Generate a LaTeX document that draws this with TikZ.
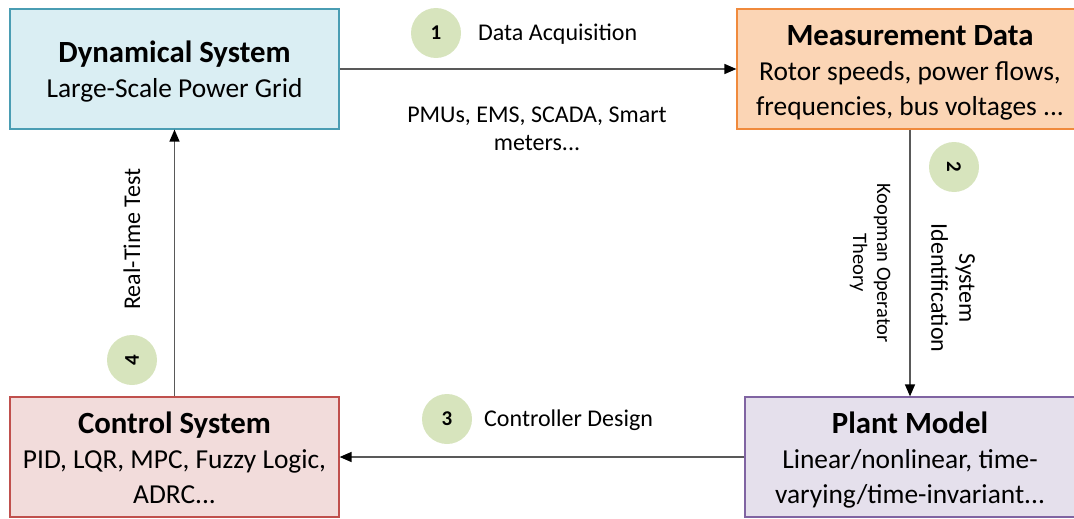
\documentclass[tikz,border=0pt]{standalone}
\usepackage{fontspec}
\setmainfont{Carlito}
\usetikzlibrary{arrows.meta}

\definecolor{dynfill}{HTML}{DAEEF3}
\definecolor{dynline}{HTML}{4A9DB3}
\definecolor{measfill}{HTML}{FBD5B5}
\definecolor{measline}{HTML}{F08A3C}
\definecolor{ctrlfill}{HTML}{F2DCDB}
\definecolor{ctrlline}{HTML}{C0504D}
\definecolor{plantfill}{HTML}{E5E0EC}
\definecolor{plantline}{HTML}{8064A2}
\definecolor{stepfill}{HTML}{D7E4BD}
\definecolor{flowline}{HTML}{595959}

\tikzset{
  block/.style={draw, line width=1.2pt, inner sep=0pt, align=center,
    font=\fontsize{27.4}{35}\selectfont},
  stepnum/.style={circle, fill=stepfill, minimum size=50pt, inner sep=0pt,
    font=\fontsize{21}{24}\selectfont\bfseries},
  lbl/.style={font=\fontsize{24}{28}\selectfont, inner sep=0pt, align=center},
  flow/.style={draw=flowline, line width=1.4pt,
    -{Triangle[length=12pt, width=10pt, color=black]}},
}
% bold first line of a block, with a fixed height so every block sits alike
\newcommand{\heading}[1]{{\fontsize{30.8}{35}\selectfont\bfseries\rule{0pt}{28pt}#1}}
% fixed depth for the last line of a block
\newcommand{\tailstrut}{\rule[-6pt]{0pt}{0pt}}

\begin{document}
\begin{tikzpicture}[x=1pt, y=-1pt]
\useasboundingbox (0,0) rectangle (1074,519);

% the four blocks of the loop
\node[block, fill=dynfill, draw=dynline, minimum width=329pt, minimum height=120pt]
  (dyn) at (174.5,69) {\heading{Dynamical System}\\Large-Scale Power Grid\tailstrut};
\node[block, fill=measfill, draw=measline, minimum width=346pt, minimum height=120pt]
  (meas) at (910,69) {\heading{Measurement Data}\\Rotor speeds, power flows,\\frequencies, bus voltages ...\tailstrut};
\node[block, fill=ctrlfill, draw=ctrlline, minimum width=329pt, minimum height=120pt]
  (ctrl) at (174.5,457) {\heading{Control System}\\PID, LQR, MPC, Fuzzy Logic,\\ADRC...\tailstrut};
\node[block, fill=plantfill, draw=plantline, minimum width=330pt, minimum height=120pt]
  (plant) at (910,457) {\heading{Plant Model}\\Linear/nonlinear, time-\\varying/time-invariant...\tailstrut};

% connectors
\draw[flow] (dyn.east) -- (meas.west);
\draw[flow] (meas.south) -- (plant.north);
\draw[flow] (plant.west) -- (ctrl.east);
\draw[flow] (ctrl.north) -- (dyn.south);

% numbered steps
\node[stepnum] (s1) at (436,33) {1};
\node[stepnum, rotate=-90] (s2) at (954,167) {2};
\node[stepnum] (s3) at (447,419) {3};
\node[stepnum, rotate=90] (s4) at (132,360) {4};

% step labels
\node[lbl, anchor=west] (l1) at (478,34) {Data Acquisition};
\node[lbl] (l1b) at (537,129) {PMUs, EMS, SCADA, Smart\\meters...};
\node[lbl, rotate=-90, font=\fontsize{20.5}{24}\selectfont] (l2a) at (870,263) {Koopman Operator\\Theory};
\node[lbl, rotate=-90] (l2b) at (953,288) {System\\Identification};
\node[lbl, anchor=west] (l3) at (484,420) {Controller Design};
\node[lbl, rotate=90] (l4) at (132,239) {Real-Time Test};
\end{tikzpicture}
\end{document}
